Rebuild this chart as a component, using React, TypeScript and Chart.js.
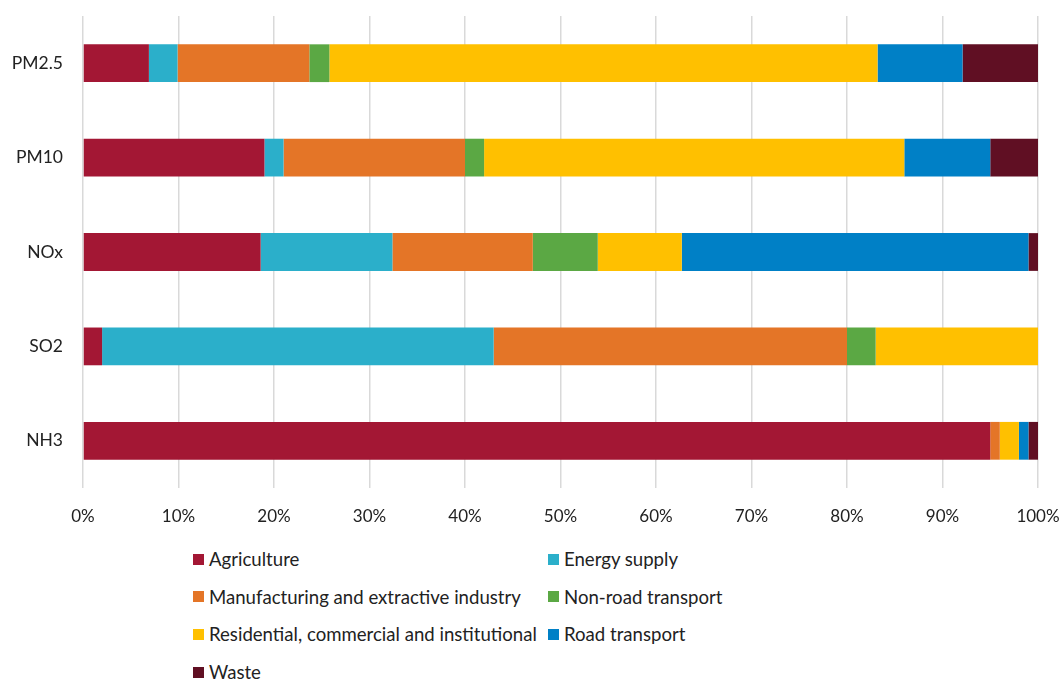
import React, { useEffect, useRef } from "react";
import { Chart, registerables } from "chart.js";

Chart.register(...registerables);

const categories = ["PM2.5", "PM10", "NOx", "SO2", "NH3"];
const agriculture = [6.9, 19, 18.6, 2, 95];
const energySupply = [3.0, 2, 13.8, 41, 0];
const manufacturing = [13.8, 19, 14.7, 37, 1];
const nonRoad = [2.1, 2, 6.8, 3, 0];
const residential = [57.4, 44, 8.8, 17, 2];
const roadTransport = [8.9, 9, 36.3, 0, 1];
const waste = [7.9, 5, 1.0, 0, 1];
const xTicks = [0, 10, 20, 30, 40, 50, 60, 70, 80, 90, 100];

const seriesNames = [
  "Agriculture",
  "Energy supply",
  "Manufacturing and extractive industry",
  "Non-road transport",
  "Residential, commercial and institutional",
  "Road transport",
  "Waste",
];
const seriesValues = [agriculture, energySupply, manufacturing, nonRoad, residential, roadTransport, waste];
const seriesColors = ["#A31734", "#2BAFCA", "#E47527", "#5BA844", "#FFC000", "#0080C6", "#600F23"];

const FONT = "Lato, 'Open Sans', sans-serif";
const TEXT = "#222222";

export default function App() {
  const ref = useRef<HTMLCanvasElement>(null);
  useEffect(() => {
    if (!ref.current) return;
    const chart = new Chart(ref.current, {
      type: "bar",
      data: {
        labels: categories,
        datasets: seriesNames.map((name, i) => ({
          label: name,
          data: seriesValues[i],
          backgroundColor: seriesColors[i],
          borderWidth: 0,
          barPercentage: 0.4,
          categoryPercentage: 1,
        })),
      },
      options: {
        indexAxis: "y",
        animation: false,
        responsive: true,
        maintainAspectRatio: false,
        layout: { padding: { top: 16, right: 24, left: 0, bottom: 0 } },
        plugins: { legend: { display: false }, tooltip: { enabled: false } },
        scales: {
          x: {
            stacked: true,
            min: 0,
            max: 100,
            afterFit: (s: any) => {
              s.height = 52;
              s.paddingLeft = 0;
              s.paddingRight = 0;
            },
            afterBuildTicks: (s: any) => { s.ticks = xTicks.map((v) => ({ value: v })); },
            grid: { color: "#D9D9D9", lineWidth: 1.5, drawTicks: false },
            border: { display: false },
            ticks: {
              padding: 18,
              color: TEXT,
              font: { family: FONT, size: 17 },
              callback: (v: any) => v + "%",
            },
          },
          y: {
            stacked: true,
            afterFit: (s: any) => {
              s.width = 83;
              s.paddingTop = 0;
              s.paddingBottom = 0;
            },
            grid: { display: false, drawTicks: false },
            border: { display: false },
            ticks: { padding: 20, color: TEXT, font: { family: FONT, size: 17.5 } },
          },
        },
      },
    });
    return () => chart.destroy();
  }, []);

  const rows: number[][] = [];
  for (let i = 0; i < seriesNames.length; i += 2) rows.push([i, i + 1].filter((k) => k < seriesNames.length));

  return (
    <div style={{ position: "absolute", left: 0, top: 0, width: 1062, height: 679, background: "#fff", fontFamily: FONT, overflow: "hidden" }}>
      <div style={{ position: "absolute", left: 0, top: 0, width: 1062, height: 540 }}>
        <canvas ref={ref} />
      </div>
      {rows.map((row, r) =>
        row.map((k, c) => (
          <div
            key={k}
            style={{
              position: "absolute",
              left: c === 0 ? 193 : 548,
              top: 559 + r * 37.7 - 12,
              height: 24,
              display: "flex",
              alignItems: "center",
              whiteSpace: "nowrap",
              fontSize: 18.6,
              color: TEXT,
            }}
          >
            <span style={{ display: "inline-block", width: 11, height: 11, background: seriesColors[k], marginRight: 5 }} />
            <span>{seriesNames[k]}</span>
          </div>
        ))
      )}
    </div>
  );
}
